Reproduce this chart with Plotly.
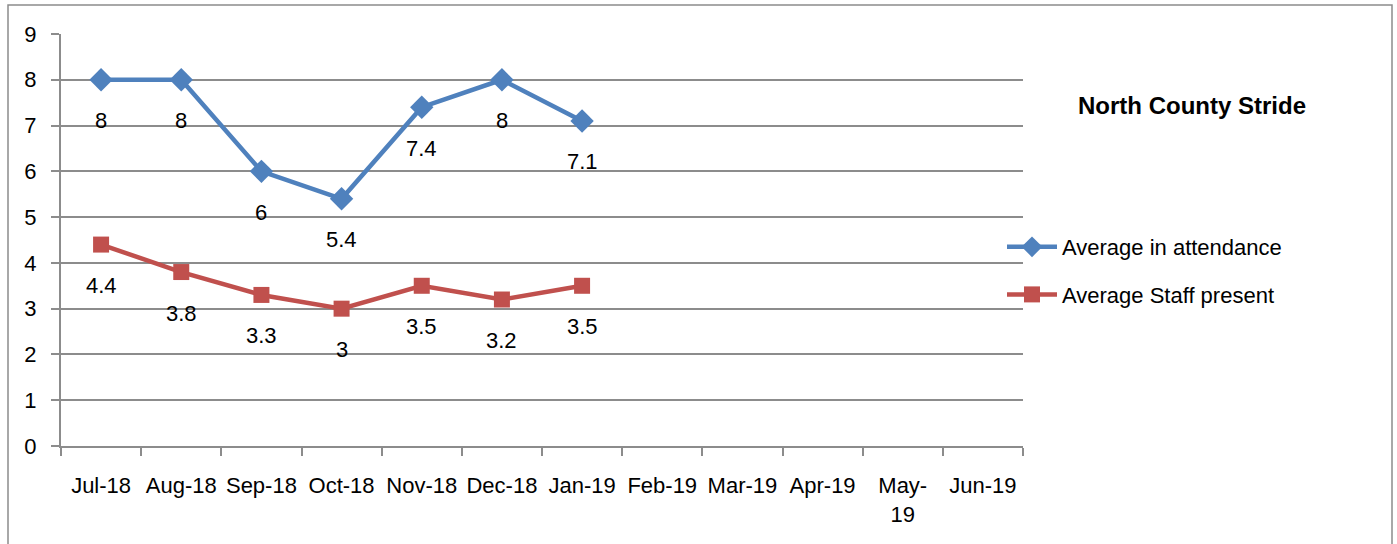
import plotly.graph_objects as go

# Monthly categories (Jul-18 .. Jun-19) and their axis labels
months = ["Jul-18", "Aug-18", "Sep-18", "Oct-18", "Nov-18", "Dec-18",
          "Jan-19", "Feb-19", "Mar-19", "Apr-19", "May-19", "Jun-19"]
month_labels = ["Jul-18", "Aug-18", "Sep-18", "Oct-18", "Nov-18", "Dec-18",
                "Jan-19", "Feb-19", "Mar-19", "Apr-19", "May-<br>19", "Jun-19"]

attendance = [8, 8, 6, 5.4, 7.4, 8, 7.1]
staff = [4.4, 3.8, 3.3, 3, 3.5, 3.2, 3.5]

y_ticks = [0, 1, 2, 3, 4, 5, 6, 7, 8, 9]

BLUE = "#4F81BD"
RED = "#C0504D"
GRID = "#8C8C8C"
FONT = "Liberation Sans, Arial, sans-serif"
FS = 22

# Plot-area geometry in pixels
W, H = 1397, 544
ML, MR, MT, MB = 61, 374, 34, 98
plot_w = W - ML - MR
plot_h = H - MT - MB


def px_x(px):
    return (px - ML) / plot_w


def px_y(py):
    return (H - MB - py) / plot_h


fig = go.Figure()
fig.add_trace(go.Scatter(
    x=months[:len(attendance)], y=attendance, mode="lines+markers",
    name="Average in attendance", legendgroup="a",
    line=dict(color=BLUE, width=4.5),
    marker=dict(symbol="diamond", size=18, color=BLUE),
))
fig.add_trace(go.Scatter(
    x=months[:len(staff)], y=staff, mode="lines+markers",
    name="Average Staff present", legendgroup="s",
    line=dict(color=RED, width=4.5),
    marker=dict(symbol="square", size=16, color=RED),
))

# Value labels placed below each point
annotations = []
for series in (attendance, staff):
    for m, v in zip(months, series):
        annotations.append(dict(
            x=m, y=v, xref="x", yref="y", text=f"{v:g}", showarrow=False,
            yshift=-41, font=dict(size=FS, color="black", family=FONT),
        ))

annotations.append(dict(
    x=px_x(1192), y=px_y(105), xref="paper", yref="paper",
    xanchor="center", yanchor="middle",
    text="<b>North County Stride</b>", showarrow=False,
    font=dict(size=24, color="black", family=FONT),
))

fig.update_layout(
    width=W, height=H,
    margin=dict(l=ML, r=MR, t=MT, b=MB),
    paper_bgcolor="white", plot_bgcolor="white",
    font=dict(family=FONT, size=FS, color="black"),
    showlegend=True,
    legend=dict(x=px_x(1002), xanchor="left", y=px_y(271), yanchor="middle",
                font=dict(size=22, family=FONT), tracegroupgap=16,
                itemwidth=50, bgcolor="rgba(0,0,0,0)"),
    annotations=annotations,
)

fig.update_xaxes(
    type="category", categoryorder="array", categoryarray=months,
    range=[-0.5, len(months) - 0.5], automargin=False,
    tickmode="array", tickvals=months, ticktext=month_labels, tickangle=0,
    tickson="boundaries", ticks="outside", ticklen=8, tickcolor=GRID,
    tickwidth=2, ticklabelstandoff=19,
    showline=True, linecolor=GRID, linewidth=2, showgrid=False,
    tickfont=dict(size=FS, family=FONT, color="black"),
)
fig.update_yaxes(
    range=[0, 9], tickmode="array", tickvals=y_ticks, automargin=False,
    ticks="outside", ticklen=8, tickcolor=GRID, tickwidth=2,
    ticklabelstandoff=10,
    showline=True, linecolor=GRID, linewidth=2,
    showgrid=True, gridcolor=GRID, gridwidth=1.5, zeroline=False,
    tickfont=dict(size=FS, family=FONT, color="black"),
)

# Outer chart frame
fig.add_shape(type="rect", xref="paper", yref="paper",
              x0=px_x(8), x1=px_x(1392), y0=px_y(600), y1=px_y(5),
              line=dict(color=GRID, width=1.5), layer="below")

fig.write_html("out.html")
